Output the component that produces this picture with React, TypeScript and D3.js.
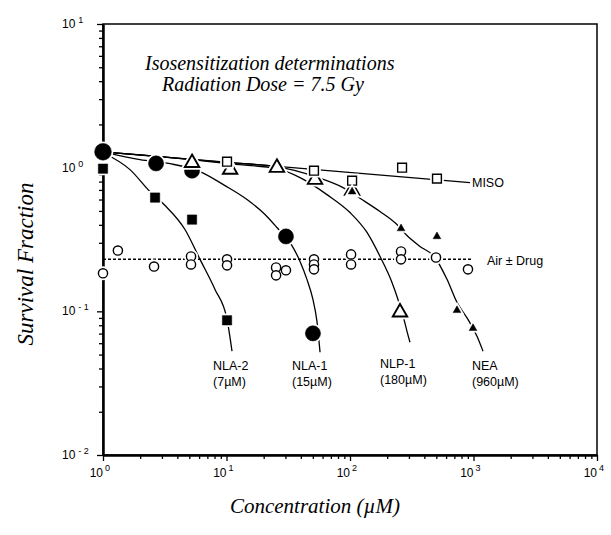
import React, { useEffect, useRef } from 'react'
import * as d3 from 'd3'

type Pt = [number, number]

// markers: [concentration (µM), survival fraction]
const nla1Points: Pt[] = [[1, 1.29], [2.69, 1.07], [5.26, 0.953], [30.3, 0.332], [50.1, 0.0703]]
const nla2Points: Pt[] = [[1, 0.984], [2.64, 0.619], [5.26, 0.435], [10.1, 0.0866]]
const nlp1Points: Pt[] = [[5.26, 1.08], [10.7, 0.969], [25.6, 1.0], [52.1, 0.825], [104, 0.692], [254, 0.0984]]
const misoPoints: Pt[] = [[10.1, 1.1], [51.1, 0.953], [104, 0.812], [264, 1.0], [506, 0.839]]
const neaPoints: Pt[] = [[104, 0.68], [259, 0.377], [506, 0.332], [735, 0.1016], [991, 0.0762]]
const airPoints: Pt[] = [
  [1.32, 0.265], [1, 0.184], [2.59, 0.205], [5.16, 0.241], [5.16, 0.212],
  [10.1, 0.23], [10.1, 0.209], [25.2, 0.202], [25.2, 0.178], [30.3, 0.193],
  [51.1, 0.23], [51.1, 0.212], [51.1, 0.196], [102, 0.249], [102, 0.212],
  [259, 0.261], [259, 0.23], [497, 0.237], [902, 0.196],
]

// fitted curves
const nla2Curve: Pt[] = [[1, 1.27], [1.654, 0.969], [2.4, 0.681], [3.18, 0.545], [4.61, 0.371], [6.1, 0.23], [8.07, 0.142], [10.1, 0.088], [11.08, 0.0528]]
const nla1Curve: Pt[] = [[1, 1.29], [1.99, 1.137], [3.49, 1.066], [6.1, 0.938], [9.72, 0.75], [14.66, 0.6], [20.5, 0.472], [25.6, 0.383], [33.9, 0.287], [39.4, 0.2225], [44.8, 0.167], [50.1, 0.121], [54, 0.0852], [57.2, 0.0519]]
const nlp1Curve: Pt[] = [[1, 1.29], [5.26, 1.137], [10.3, 1.066], [25.6, 0.984], [39.4, 0.852], [65.1, 0.649], [100, 0.487], [137.3, 0.354], [175, 0.241], [218.8, 0.159], [244.7, 0.121], [273.5, 0.088], [289.4, 0.0726], [306, 0.0609]]
const neaCurve: Pt[] = [[1, 1.29], [10.3, 1.083], [25.6, 1.016], [52.1, 0.866], [87.8, 0.726], [125, 0.6], [175, 0.495], [240, 0.402], [289.4, 0.337], [368.6, 0.283], [488, 0.237], [610, 0.167], [735, 0.1155], [902, 0.088], [1067, 0.067], [1194, 0.0528]]
const misoLine: Pt[] = [[1, 1.29], [937, 0.787]]
const airLine: Pt[] = [[1, 0.23], [973, 0.23]]

const xDecades = [0, 1, 2, 3, 4]
const yDecades = [-2, -1, 0, 1]

const curveLabels = [
  { name: 'NLA-2', dose: '(7µM)', at: [7.78, 0.0389] as Pt },
  { name: 'NLA-1', dose: '(15µM)', at: [33.9, 0.0389] as Pt },
  { name: 'NLP-1', dose: '(180µM)', at: [175, 0.0402] as Pt },
  { name: 'NEA', dose: '(960µM)', at: [972, 0.0389] as Pt },
]

const SERIF = '"Liberation Serif", "Times New Roman", Times, serif'
const SANS = '"Liberation Sans", Arial, Helvetica, sans-serif'

export default function App() {
  const svgRef = useRef<SVGSVGElement>(null)

  useEffect(() => {
    if (!svgRef.current) return
    const svg = d3.select(svgRef.current)
    svg.selectAll('*').remove()

    const x = d3.scaleLog().domain([1, 1e4]).range([103, 597])
    const y = d3.scaleLog().domain([0.01, 10]).range([455, 24])

    const minorX: number[] = []
    xDecades.slice(0, -1).forEach(e => { for (let k = 2; k < 10; k++) minorX.push(k * 10 ** e) })
    const minorY: number[] = []
    yDecades.slice(0, -1).forEach(e => { for (let k = 2; k < 10; k++) minorY.push(k * 10 ** e) })

    // frame
    svg.append('rect')
      .attr('x', 103).attr('y', 24)
      .attr('width', 494).attr('height', 431)
      .attr('fill', 'none').attr('stroke', '#000').attr('stroke-width', 1.5)

    const axisX = svg.append('g').attr('transform', 'translate(0,455)')
    axisX.append('g').call(d3.axisBottom(x).tickValues(minorX).tickSize(4).tickSizeOuter(0).tickFormat(() => ''))
    axisX.append('g').call(d3.axisBottom(x).tickValues(xDecades.map(e => 10 ** e)).tickSize(6).tickSizeOuter(0).tickFormat(() => ''))
    axisX.selectAll('path.domain').attr('stroke-width', 2)
    axisX.selectAll('line').attr('stroke-width', 1.3)

    const axisY = svg.append('g').attr('transform', 'translate(103,0)')
    axisY.append('g').call(d3.axisLeft(y).tickValues(minorY).tickSize(4).tickSizeOuter(0).tickFormat(() => ''))
    axisY.append('g').call(d3.axisLeft(y).tickValues(yDecades.map(e => 10 ** e)).tickSize(6).tickSizeOuter(0).tickFormat(() => ''))
    axisY.selectAll('path.domain').attr('stroke-width', 2)
    axisY.selectAll('line').attr('stroke-width', 1.3)

    // tick labels 10^n
    xDecades.forEach(e => {
      svg.append('text')
        .attr('x', x(10 ** e)).attr('y', 477)
        .attr('text-anchor', 'end')
        .attr('font-family', SANS).attr('font-size', 12)
        .text('10')
      svg.append('text')
        .attr('x', x(10 ** e) + 2).attr('y', 471)
        .attr('font-family', SANS).attr('font-size', 9)
        .text(String(e))
    })
    yDecades.forEach(e => {
      const yy = y(10 ** e)
      const t = svg.append('text')
        .attr('x', 62).attr('y', yy + 4)
        .attr('font-family', SANS).attr('font-size', 12)
      t.append('tspan').text('10')
      t.append('tspan').attr('dx', 3).attr('dy', -5).attr('font-size', 9)
        .text(e < 0 ? `- ${-e}` : String(e))
    })

    // axis titles
    svg.append('text')
      .attr('transform', 'translate(33,264) rotate(-90)')
      .attr('text-anchor', 'middle')
      .attr('font-family', SERIF).attr('font-style', 'italic').attr('font-size', 23)
      .text('Survival Fraction')
    svg.append('text')
      .attr('x', 315).attr('y', 513)
      .attr('text-anchor', 'middle')
      .attr('font-family', SERIF).attr('font-style', 'italic').attr('font-size', 21)
      .text('Concentration (µM)')

    // title inside plot
    svg.append('text')
      .attr('x', 145).attr('y', 70)
      .attr('font-family', SERIF).attr('font-style', 'italic').attr('font-size', 20)
      .text('Isosensitization determinations')
    svg.append('text')
      .attr('x', 162).attr('y', 91)
      .attr('font-family', SERIF).attr('font-style', 'italic').attr('font-size', 20)
      .text('Radiation Dose = 7.5 Gy')

    const line = d3.line<Pt>()
      .x(d => x(d[0]))
      .y(d => y(d[1]))
      .curve(d3.curveMonotoneX)

    const curves = svg.append('g').attr('fill', 'none').attr('stroke', '#000').attr('stroke-width', 1.3)
    ;[nla2Curve, nla1Curve, nlp1Curve, neaCurve, misoLine].forEach(c => {
      curves.append('path').attr('d', line(c))
    })
    curves.append('path')
      .attr('d', line(airLine))
      .attr('stroke-width', 1.5)
      .attr('stroke-dasharray', '3,2')

    const drawMarks = (pts: Pt[], type: d3.SymbolType, size: (d: Pt, i: number) => number, filled: boolean, sw: number) => {
      const g = svg.append('g')
      const pos = (d: Pt) => `translate(${x(d[0])},${y(d[1])})`
      const shape = (d: Pt, i: number) => d3.symbol().type(type).size(size(d, i))() as string
      g.selectAll('path.halo').data(pts).join('path')
        .attr('class', 'halo')
        .attr('transform', pos)
        .attr('d', shape)
        .attr('fill', '#fff').attr('stroke', '#fff').attr('stroke-width', sw + 3.5)
      g.selectAll('path.mark').data(pts).join('path')
        .attr('class', 'mark')
        .attr('transform', pos)
        .attr('d', shape)
        .attr('fill', filled ? '#000' : '#fff')
        .attr('stroke', '#000').attr('stroke-width', sw)
    }

    drawMarks(airPoints, d3.symbolCircle, () => Math.PI * 4.6 * 4.6, false, 1.4)
    drawMarks(nla1Points, d3.symbolCircle, (d, i) => Math.PI * (i === 0 ? 8.4 : 7.6) ** 2, true, 0.5)
    drawMarks(nlp1Points, d3.symbolTriangle, () => 90, false, 1.9)
    drawMarks(misoPoints, d3.symbolSquare, () => 78, false, 1.4)
    drawMarks(neaPoints, d3.symbolTriangle, () => 26, true, 0.5)
    drawMarks(nla2Points, d3.symbolSquare, () => 88, true, 0.5)

    // series labels
    const lab = svg.append('g').attr('font-family', SANS).attr('font-size', 12.5)
    curveLabels.forEach(l => {
      lab.append('text').attr('x', x(l.at[0])).attr('y', y(l.at[1])).text(l.name)
      lab.append('text').attr('x', x(l.at[0])).attr('y', y(l.at[1]) + 16).text(l.dose)
    })
    lab.append('text').attr('x', x(972)).attr('y', y(0.738)).text('MISO')
    lab.append('text').attr('x', x(1286)).attr('y', y(0.2087)).text('Air ± Drug')
  }, [])

  return (
    <svg
      ref={svgRef}
      width={611}
      height={535}
      style={{ position: 'absolute', left: 0, top: 0, background: '#fff' }}
    />
  )
}
